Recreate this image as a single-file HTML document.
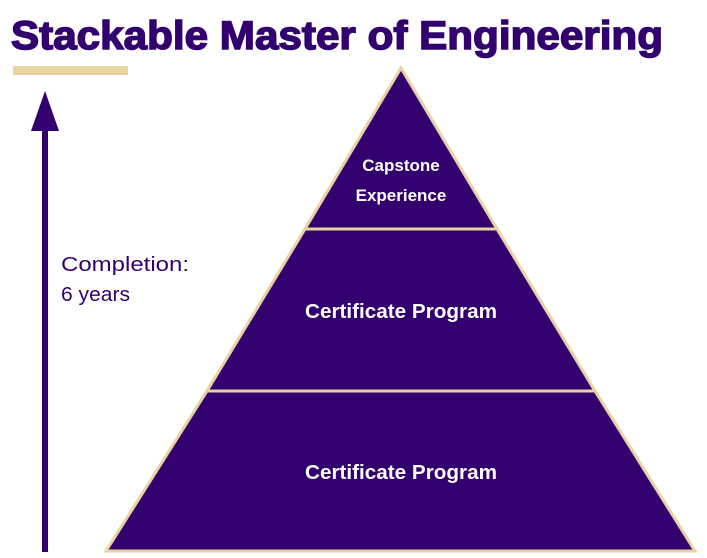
<!DOCTYPE html>
<html><head><style>
html,body{margin:0;padding:0;background:#fff;}
</style></head><body>
<svg width="707" height="558" viewBox="0 0 707 558" xmlns="http://www.w3.org/2000/svg" style="display:block">
<text x="11" y="49" font-family="Liberation Sans, sans-serif" font-weight="bold" font-size="40" fill="#33006f" stroke="#33006f" stroke-width="1.5" textLength="652" lengthAdjust="spacingAndGlyphs">Stackable Master of Engineering</text>
<rect x="13" y="66" width="115" height="9" fill="#e8d3a2"/>
<polygon points="45,91 31,131 59,131" fill="#33006f"/>
<rect x="42" y="129" width="6" height="423" fill="#33006f"/>
<text x="61" y="271" font-family="Liberation Sans, sans-serif" font-size="20" fill="#33006f" textLength="128" lengthAdjust="spacingAndGlyphs">Completion:</text>
<text x="61" y="301" font-family="Liberation Sans, sans-serif" font-size="20" fill="#33006f" textLength="69" lengthAdjust="spacingAndGlyphs">6 years</text>
<g stroke="#e8d3a2" stroke-width="3" fill="#33006f" stroke-linejoin="miter">
<polygon points="401,68 497,229 305,229"/>
<polygon points="305,229 497,229 595,391 207,391"/>
<polygon points="207,391 595,391 695,551 106,551"/>
</g>
<g font-family="Liberation Sans, sans-serif" font-weight="bold" fill="#fff" text-anchor="middle">
<text x="401" y="171" font-size="17">Capstone</text>
<text x="401" y="201" font-size="17">Experience</text>
<text x="401" y="318" font-size="20" textLength="192" lengthAdjust="spacingAndGlyphs">Certificate Program</text>
<text x="401" y="479" font-size="20" textLength="192" lengthAdjust="spacingAndGlyphs">Certificate Program</text>
</g>
</svg>
</body></html>
